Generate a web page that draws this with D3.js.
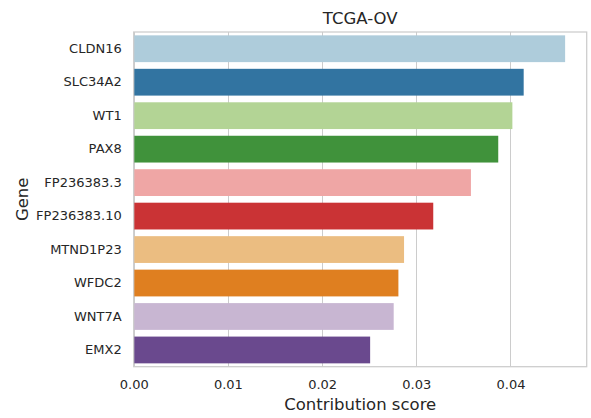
<!DOCTYPE html>
<html>
<head>
<meta charset="utf-8">
<script src="https://cdn.jsdelivr.net/npm/d3@7"></script>
<style>
  body { margin: 0; background: #fff; }
  text { font-family: "DejaVu Sans", sans-serif; fill: #262626; }
</style>
</head>
<body>
<div id="chart"></div>
<script>
const genes = ["CLDN16", "SLC34A2", "WT1", "PAX8", "FP236383.3", "FP236383.10", "MTND1P23", "WFDC2", "WNT7A", "EMX2"];
const scores = [0.0458, 0.0414, 0.0402, 0.0387, 0.0358, 0.0318, 0.0287, 0.0281, 0.0276, 0.0251];
const xTicks = [0, 0.01, 0.02, 0.03, 0.04];
const palette = ["#a6cee3", "#1f78b4", "#b2df8a", "#33a02c", "#fb9a99", "#e31a1c", "#fdbf6f", "#ff7f00", "#cab2d6", "#6a3d9a"];

const fullwidth = 591, fullheight = 418;
const margin = { left: 133.7, right: 4.3, top: 32, bottom: 51.3 };

// seaborn-like desaturation
const colors = palette.map(c => { const h = d3.hsl(c); h.s *= 0.75; return h.formatHex(); });

const svg = d3.select("#chart").append("svg")
  .attr("width", fullwidth)
  .attr("height", fullheight);

const x = d3.scaleLinear()
  .domain([0, d3.max(scores) * 1.05])
  .range([margin.left, fullwidth - margin.right]);

const y = d3.scaleBand()
  .domain(genes)
  .range([margin.top, fullheight - margin.bottom])
  .paddingInner(0.2)
  .paddingOuter(0.1);

// grid
svg.append("g")
  .selectAll("line")
  .data(xTicks)
  .enter().append("line")
  .attr("x1", d => Math.round(x(d)) + 0.5)
  .attr("x2", d => Math.round(x(d)) + 0.5)
  .attr("y1", margin.top)
  .attr("y2", fullheight - margin.bottom)
  .attr("stroke", "#cccccc")
  .attr("stroke-width", 1);

// bars
svg.append("g")
  .selectAll("rect")
  .data(genes)
  .enter().append("rect")
  .attr("x", x(0))
  .attr("y", d => y(d))
  .attr("width", (d, i) => x(scores[i]) - x(0))
  .attr("height", y.bandwidth())
  .attr("fill", (d, i) => colors[i]);

// frame
svg.append("rect")
  .attr("x", margin.left)
  .attr("y", margin.top)
  .attr("width", fullwidth - margin.left - margin.right)
  .attr("height", fullheight - margin.top - margin.bottom)
  .attr("fill", "none")
  .attr("stroke", "#cccccc")
  .attr("stroke-width", 1.25);

// x axis
const xAxis = svg.append("g")
  .attr("transform", `translate(0,${fullheight - margin.bottom})`)
  .call(d3.axisBottom(x).tickValues(xTicks).tickFormat(d3.format(".2f")).tickSize(0).tickPadding(0));
xAxis.select(".domain").remove();
xAxis.selectAll("text")
  .attr("y", 22)
  .attr("dy", null)
  .style("font-size", "13px")
  .attr("fill", "#262626");

// y axis
const yAxis = svg.append("g")
  .attr("transform", `translate(${margin.left},0)`)
  .call(d3.axisLeft(y).tickSize(0).tickPadding(12));
yAxis.select(".domain").remove();
yAxis.selectAll("text")
  .style("font-size", "13px")
  .attr("fill", "#262626");

// title & labels
svg.append("text")
  .attr("x", (margin.left + fullwidth - margin.right) / 2)
  .attr("y", 24)
  .attr("text-anchor", "middle")
  .style("font-size", "16.5px")
  .text("TCGA-OV");

svg.append("text")
  .attr("x", (margin.left + fullwidth - margin.right) / 2)
  .attr("y", 409.5)
  .attr("text-anchor", "middle")
  .style("font-size", "16.5px")
  .text("Contribution score");

svg.append("text")
  .attr("transform", `translate(27.7,${(margin.top + fullheight - margin.bottom) / 2}) rotate(-90)`)
  .attr("text-anchor", "middle")
  .style("font-size", "16.5px")
  .text("Gene");
</script>
</body>
</html>
